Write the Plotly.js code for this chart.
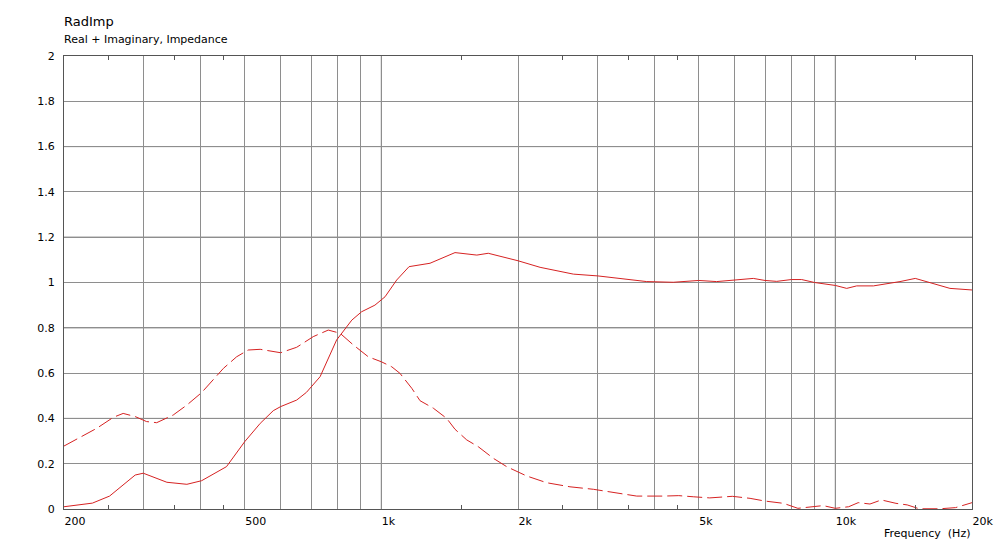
<!DOCTYPE html>
<html>
<head>
<meta charset="utf-8">
<script src="https://cdn.plot.ly/plotly-3.0.1.min.js"></script>
<style>html,body{margin:0;padding:0;background:#fff;}#chart{width:995px;height:544px;}</style>
</head>
<body>
<div id="chart"></div>
<script>
// Real part of radiation impedance (solid)
const freqReal = [200,231,252,287,299,337,373,402,456,500,541,578,600,651,684,733,797,861,905,968,1019,1081,1151,1280,1453,1623,1720,2000,2237,2648,3000,3355,3842,4396,5000,5477,6000,6597,7000,7428,8000,8431,9000,10000,10593,11143,12130,12975,13880,15000,16160,17005,17885,20000];
const realVals = [0.01,0.026,0.057,0.15,0.158,0.118,0.109,0.125,0.187,0.297,0.378,0.434,0.452,0.481,0.515,0.584,0.746,0.834,0.871,0.90,0.937,1.011,1.07,1.085,1.132,1.121,1.129,1.096,1.067,1.037,1.029,1.018,1.004,1.001,1.009,1.004,1.012,1.018,1.009,1.005,1.013,1.013,1.0,0.987,0.974,0.985,0.985,0.993,1.004,1.018,1.0,0.989,0.974,0.967];
// Imaginary part (dashed)
const freqImag = [200,217,236,257,270,287,304,320,348,373,402,449,480,509,541,600,651,708,764,811,868,936,1000,1054,1099,1167,1217,1302,1393,1453,1542,1635,1764,1888,2089,2313,2603,2931,3245,3652,4178,4520,4865,5290,5930,6490,7000,7690,8270,8940,9400,10000,10700,11230,11920,12630,13600,14400,15300,17000,18400,20000];
const imagVals = [0.278,0.315,0.356,0.405,0.422,0.408,0.386,0.381,0.415,0.459,0.514,0.621,0.672,0.702,0.705,0.69,0.714,0.761,0.79,0.776,0.724,0.672,0.65,0.628,0.599,0.533,0.478,0.445,0.40,0.352,0.305,0.275,0.224,0.187,0.146,0.116,0.098,0.087,0.074,0.057,0.057,0.059,0.054,0.049,0.056,0.047,0.035,0.025,0.003,0.01,0.015,0.003,0.01,0.028,0.022,0.04,0.025,0.018,0.001,0.001,0.006,0.028];

const xTickVals = [200,500,1000,2000,5000,10000,20000];
const xTickText = ['200','500','1k','2k','5k','10k','20k'];
const xGridVals = [300,400,600,700,800,900,3000,4000,6000,7000,8000,9000];
const xDarkGrid = [1000,10000];
const xSmallTicks = [250,350,450,1500,2500,3500,4500,15000];
const yTickVals = [0,0.2,0.4,0.6,0.8,1,1.2,1.4,1.6,1.8,2];
const yTickText = ['0','0.2','0.4','0.6','0.8','1','1.2','1.4','1.6','1.8','2'];
const yDarkGrid = [0.4,0.8,1.2,1.6];

const RED = 'rgb(214,34,34)';
const LIGHT = '#8e8e8e';
const DARK = '#666666';
const BORDER = '#555555';
const FONT = 'DejaVu Sans, Verdana, sans-serif';

const traces = [
  {x: freqImag, y: imagVals, mode: 'lines', line: {color: RED, width: 1, dash: '15px,5px'}, hoverinfo: 'skip', showlegend: false},
  {x: freqReal, y: realVals, mode: 'lines', line: {color: RED, width: 1}, hoverinfo: 'skip', showlegend: false},
  {x: [], y: [], xaxis: 'x2', mode: 'lines', hoverinfo: 'skip', showlegend: false}
];

const shapes = [];
xDarkGrid.forEach(v => shapes.push({type: 'line', xref: 'x', yref: 'paper', x0: v, x1: v, y0: 0, y1: 1, line: {color: DARK, width: 1}, layer: 'below'}));
yDarkGrid.forEach(v => shapes.push({type: 'line', xref: 'paper', yref: 'y', x0: 0, x1: 1, y0: v, y1: v, line: {color: DARK, width: 1}, layer: 'below'}));

const layout = {
  width: 995, height: 544,
  margin: {l: 64, r: 23, t: 56, b: 35},
  paper_bgcolor: '#fff', plot_bgcolor: '#fff',
  font: {family: FONT, size: 11, color: '#000'},
  title: {
    text: 'RadImp', xref: 'container', x: 64/995, xanchor: 'left',
    yref: 'container', y: 1 - 21/544, yanchor: 'middle',
    font: {family: FONT, size: 13, color: '#000'}
  },
  xaxis: {
    type: 'log', range: [Math.log10(200), Math.log10(20000)],
    tickmode: 'array', tickvals: xTickVals, ticktext: xTickText,
    ticks: '', ticklabelposition: 'outside right', ticklabelstandoff: 2,
    showgrid: true, gridcolor: LIGHT, gridwidth: 1,
    minor: {tickmode: 'array', tickvals: xGridVals, showgrid: true, gridcolor: LIGHT, gridwidth: 1, ticks: ''},
    showline: true, linecolor: BORDER, linewidth: 1, mirror: true,
    zeroline: false, fixedrange: true
  },
  xaxis2: {
    type: 'log', range: [Math.log10(200), Math.log10(20000)],
    overlaying: 'x', anchor: 'y', side: 'bottom',
    tickmode: 'array', tickvals: xSmallTicks, ticks: 'inside', ticklen: 4, tickcolor: BORDER, tickwidth: 1,
    showticklabels: false, showgrid: false, showline: true, linecolor: BORDER, mirror: 'ticks', zeroline: false
  },
  yaxis: {
    range: [0, 2], tickmode: 'array', tickvals: yTickVals, ticktext: yTickText,
    ticks: '', ticklabelstandoff: 6,
    showgrid: true, gridcolor: LIGHT, gridwidth: 1,
    showline: true, linecolor: BORDER, linewidth: 1, mirror: true, zeroline: false, fixedrange: true
  },
  shapes: shapes,
  annotations: [
    {
      text: 'Real + Imaginary, Impedance', xref: 'paper', yref: 'paper', x: -2/908, y: 1 + 17/453,
      xanchor: 'left', yanchor: 'middle', showarrow: false, font: {family: FONT, size: 11, color: '#000'}
    },
    {
      text: 'Frequency\u00a0\u00a0(Hz)', xref: 'paper', yref: 'paper', x: 1, y: -24/453,
      xanchor: 'right', yanchor: 'middle', showarrow: false, font: {family: FONT, size: 11, color: '#000'}
    }
  ]
};

Plotly.newPlot('chart', traces, layout, {staticPlot: true, displayModeBar: false});
</script>
</body>
</html>
